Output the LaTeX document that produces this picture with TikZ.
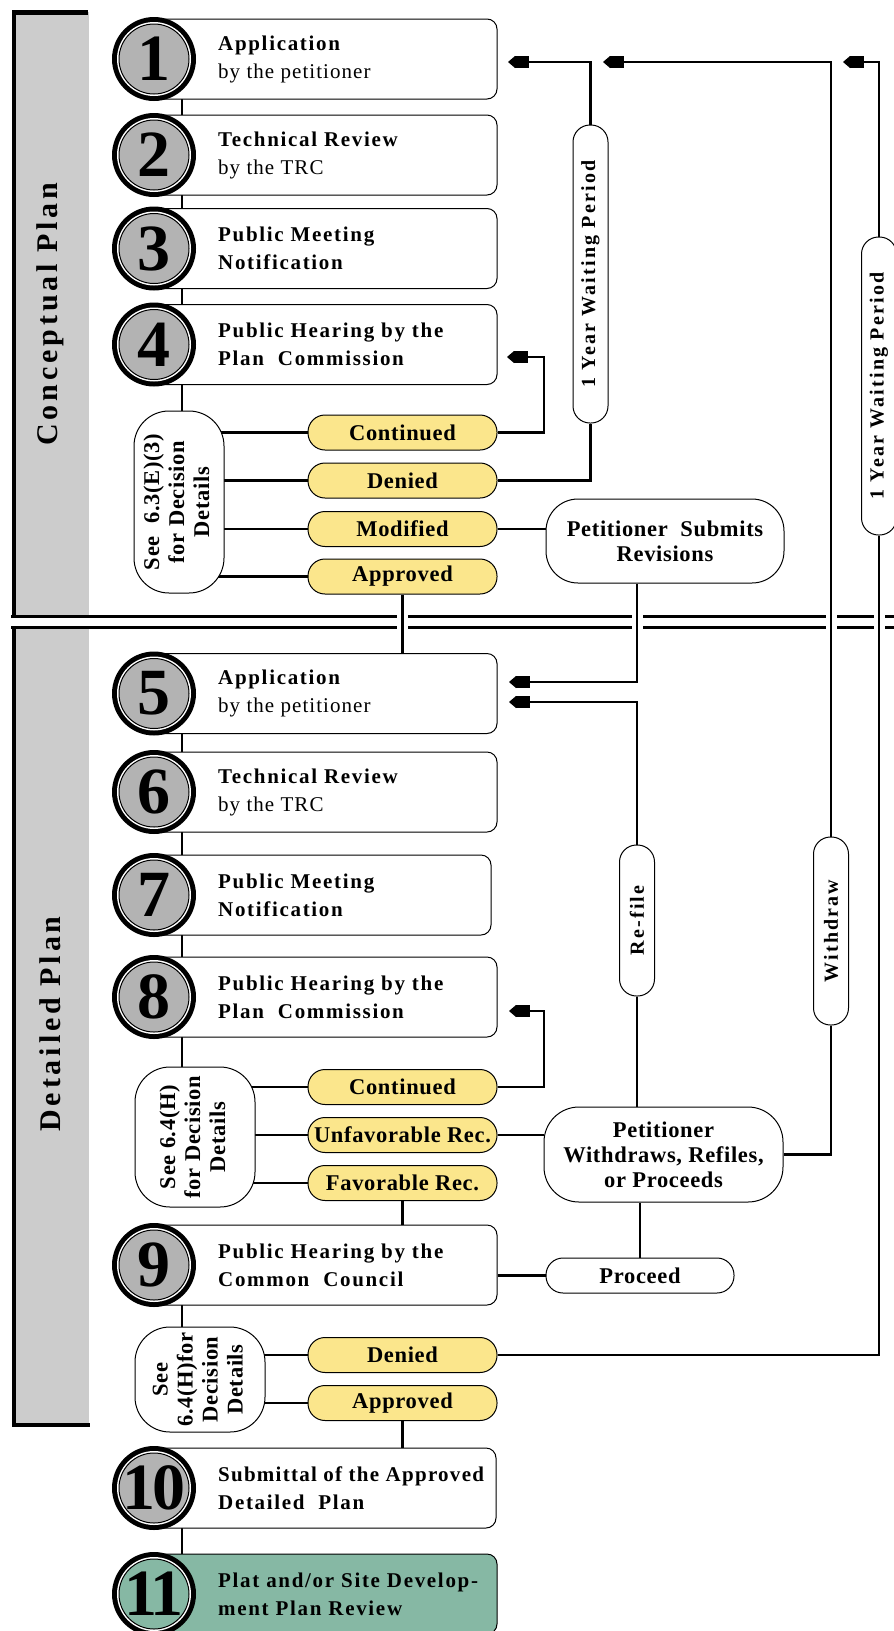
\documentclass[tikz,border=0pt]{standalone}
\usepackage{fontspec}
\usepackage{graphicx}
\setmainfont{Liberation Serif}
\newfontfamily\stepfont{Liberation Serif}[LetterSpace=8]
\newfontfamily\tightfont{Liberation Serif}[LetterSpace=6]
\newfontfamily\byfont{Liberation Serif}[LetterSpace=5]
\newfontfamily\pillfont{Liberation Serif}[LetterSpace=3]
\newfontfamily\vertfont{Liberation Serif}[LetterSpace=11]
\newfontfamily\titlefont{Liberation Serif}[LetterSpace=13]
\newfontfamily\numfont{Liberation Serif}[LetterSpace=-4]
\usepackage{tikz}
\usetikzlibrary{arrows.meta}
\pgfdeclarelayer{background}
\pgfsetlayers{background,main}

\definecolor{bandgray}{HTML}{CCCCCC}
\definecolor{circgray}{HTML}{B3B3B3}
\definecolor{pillyellow}{HTML}{FBE68C}
\definecolor{platgreen}{HTML}{86B8A4}

\tikzset{
  stepbox/.style={draw, line width=1pt, rounded corners=10pt, minimum height=80pt, inner sep=0pt},
  steptext/.style={align=left, inner sep=0pt, font=\stepfont\bfseries\fontsize{21}{28}\selectfont},
  stepnum/.style={inner sep=0pt, font=\numfont\bfseries\fontsize{66}{66}\selectfont},
  verdict/.style={draw, line width=1pt, fill=pillyellow, rounded corners=17pt, minimum width=189pt,
    minimum height=35pt, inner sep=0pt, font=\pillfont\bfseries\fontsize{22.5}{25}\selectfont},
  sidenote/.style={draw, line width=1pt, fill=white, rounded corners=35pt, inner sep=0pt,
    font=\pillfont\bfseries\fontsize{22.5}{25}\selectfont},
  outcome/.style={draw, line width=1pt, fill=white, align=center, inner sep=0pt,
    font=\pillfont\bfseries\fontsize{22.5}{25}\selectfont},
  waitpill/.style={draw, line width=1pt, fill=white, rounded corners=17pt, minimum width=35pt,
    inner sep=0pt, font=\vertfont\bfseries\fontsize{20}{24}\selectfont},
  titletext/.style={rotate=90, inner sep=0pt, font=\titlefont\bfseries\fontsize{30}{30}\selectfont},
  flow/.style={line width=2.5pt},
  spine/.style={line width=2pt},
  intip/.style={-{Square[length=14pt,width=12pt,line width=0pt] Triangle[length=7pt,width=12pt,line width=0pt]}},
  hop/.style={preaction={draw=white, line width=11pt, arrows=-}},
  frameline/.style={line width=4.5pt},
  sepline/.style={line width=3pt},
}

% one numbered step: #1 number, #2 y, #3 right edge, #4 disc fill, #5 box fill, #6 text
\newcommand{\planstep}[6]{%
  \node[stepbox, fill=#5, minimum width={#3-150}] (b#1) at ({(150+#3)/2},#2) {};
  \node[steptext, anchor=west] (t#1) at (218,#2) {#6};
  \node[circle, fill=black, minimum size=84pt, inner sep=0pt] (n#1) at (154,#2) {};
  \fill[white] (n#1.center) circle (37pt);
  \draw[line width=1pt, fill=#4] (n#1.center) circle (35pt);
  \node[stepnum] (d#1) at (n#1.center) {#1};
}

\begin{document}
\begin{tikzpicture}[x=1pt, y=-1pt]
  \useasboundingbox (0,0) rectangle (894,1631);

  % side titles
  \node[titletext] (concept) at (50,314) {Conceptual Plan};
  \node[titletext] (detail) at (50,1024) {Detailed Plan};

  % steps
  \planstep{1}{59}{497}{circgray}{white}{Application\\{\byfont\mdseries by the petitioner}}
  \planstep{2}{155}{497}{circgray}{white}{Technical Review\\{\byfont\mdseries by the TRC}}
  \planstep{3}{248.5}{497}{circgray}{white}{Public Meeting\\Notification}
  \planstep{4}{344.5}{497}{circgray}{white}{Public Hearing by the\\Plan~ Commission}
  \planstep{5}{693.5}{497}{circgray}{white}{Application\\{\byfont\mdseries by the petitioner}}
  \planstep{6}{792}{497}{circgray}{white}{Technical Review\\{\byfont\mdseries by the TRC}}
  \planstep{7}{895}{491}{circgray}{white}{Public Meeting\\Notification}
  \planstep{8}{997}{497}{circgray}{white}{Public Hearing by the\\Plan~ Commission}
  \planstep{9}{1265}{497}{circgray}{white}{Public Hearing by the\\Common~ Council}
  \planstep{10}{1488}{496}{circgray}{white}{{\tightfont Submittal of the Approved}\\Detailed~ Plan}
  \planstep{11}{1594}{497}{platgreen}{platgreen}{Plat and/or Site Develop-\\ment Plan Review}

  % decisions
  \node[verdict] (contA) at (402.5,432.5) {Continued};
  \node[verdict] (denA) at (402.5,480.5) {Denied};
  \node[verdict] (modA) at (402.5,529) {Modified};
  \node[verdict] (appA) at (402.5,576.5) {Approved};
  \node[verdict] (contB) at (402.5,1087) {Continued};
  \node[verdict] (unfB) at (402.5,1135) {Unfavorable Rec.};
  \node[verdict] (favB) at (402.5,1183) {Favorable Rec.};
  \node[verdict] (denC) at (402.5,1355) {Denied};
  \node[verdict] (appC) at (402.5,1403) {Approved};

  \node[sidenote, minimum width=90pt, minimum height=182pt] (seeA) at (179,502)
    {\rotatebox{90}{\begin{tabular}{@{}c@{}}See~ 6.3(E)(3)\\for Decision\\Details\end{tabular}}};
  \node[sidenote, minimum width=120pt, minimum height=140pt] (seeB) at (195,1137)
    {\rotatebox{90}{\begin{tabular}{@{}c@{}}See 6.4(H)\\for Decision\\Details\end{tabular}}};
  \node[sidenote, minimum width=130pt, minimum height=105pt] (seeC) at (200,1379.5)
    {\rotatebox{90}{\begin{tabular}{@{}c@{}}See\\6.4(H)for\\Decision\\Details\end{tabular}}};

  % petitioner actions
  \node[outcome, minimum width=238pt, minimum height=84pt, rounded corners=32pt] (revise) at (665,541)
    {Petitioner~ Submits\\Revisions};
  \node[outcome, minimum width=239pt, minimum height=95pt, rounded corners=35pt] (choose) at (663.5,1154.5)
    {Petitioner\\Withdraws, Refiles,\\or Proceeds};
  \node[outcome, minimum width=188pt, minimum height=35pt, rounded corners=17pt] (proceed) at (640,1275.5)
    {Proceed};

  \node[waitpill, minimum height=298pt] (waitA) at (590.5,274) {\rotatebox{90}{1 Year Waiting Period}};
  \node[waitpill, minimum height=298pt] (waitB) at (879,386) {\rotatebox{90}{1 Year Waiting Period}};
  \node[waitpill, minimum height=151pt] (refile) at (637,920.5) {\rotatebox{90}{Re-file}};
  \node[waitpill, minimum height=188pt] (withdraw) at (831,931) {\rotatebox{90}{Withdraw}};

  % arrow ends
  \coordinate (in1a) at (508,62);
  \coordinate (in1b) at (603,62);
  \coordinate (in1c) at (843,62);
  \coordinate (in4) at (507,357);
  \coordinate (in5a) at (509,682);
  \coordinate (in5b) at (509,702);
  \coordinate (in8) at (509,1011);

  \begin{pgfonlayer}{background}
    \fill[bandgray] (14,12) rectangle (89,616);
    \fill[bandgray] (14,627) rectangle (89,1425);
    \draw[frameline] (88,12.5) -- (14,12.5) -- (14,616);
    \draw[frameline] (14,627) -- (14,1425) -- (90,1425);
    \draw[sepline] (11,616) -- (894,616) (11,627) -- (894,627);

    \foreach \a/\b in {1/2,2/3,3/4,5/6,6/7,7/8,10/11}
      \draw[spine] ([xshift=28pt]n\a.center) -- ([xshift=28pt]n\b.center);
    \draw[spine] ([xshift=28pt]n4.center) -- ([xshift=28pt]n4.center |- seeA.center);
    \draw[spine] ([xshift=28pt]n8.center) -- ([xshift=28pt]n8.center |- seeB.center);
    \draw[spine] ([xshift=28pt]n9.center) -- ([xshift=28pt]n9.center |- seeC.center);

    \foreach \d in {contA,denA,modA,appA}
      \draw[flow] (seeA.center |- \d.west) -- (\d.west);
    \foreach \d in {contB,unfB,favB}
      \draw[flow] (seeB.center |- \d.west) -- (\d.west);
    \foreach \d in {denC,appC}
      \draw[flow] (seeC.center |- \d.west) -- (\d.west);

    \draw[flow, intip] (waitA.north) |- (in1a);
    \draw[flow, intip, hop] (withdraw.north) |- (in1b);
    \draw[flow, intip] (waitB.north) |- (in1c);
    \draw[flow, intip] (contA.east) -| ([xshift=37pt]in4) -- (in4);
    \draw[flow] (denA.east) -| (waitA.south);
    \draw[flow] (modA.east) -- (modA.east -| revise.west);
    \draw[flow, hop] (appA.south) -- (appA.south |- b5.north);
    \draw[flow, intip, hop] (revise.south -| refile.north) |- (in5a);
    \draw[flow, intip] (refile.north) |- (in5b);
    \draw[flow] (refile.south) -- (refile.south |- choose.north);
    \draw[flow, intip] (contB.east) -| ([xshift=35pt]in8) -- (in8);
    \draw[flow] (unfB.east) -- (unfB.east -| choose.west);
    \draw[flow] (withdraw.south) |- (choose.east);
    \draw[flow] (choose.south -| proceed.north) -- (proceed.north);
    \draw[flow] (proceed.west -| b9.east) -- (proceed.west);
    \draw[flow] (favB.south) -- (favB.south |- b9.north);
    \draw[flow, hop] (denC.east) -| (waitB.south);
    \draw[flow] (appC.south) -- (appC.south |- b10.north);
  \end{pgfonlayer}
\end{tikzpicture}
\end{document}
